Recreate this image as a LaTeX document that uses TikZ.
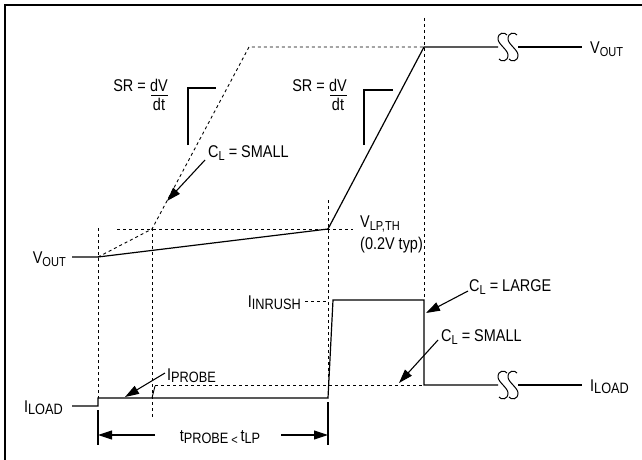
\documentclass[tikz,border=0pt]{standalone}
\usepackage{fontspec}
\setmainfont{Liberation Sans}[FakeStretch=0.85]
\usetikzlibrary{arrows.meta}
\newcommand{\sbs}[1]{\raisebox{-3pt}{\fontsize{13}{13}\selectfont #1}}
\newcommand{\sbl}[1]{\raisebox{-2.5pt}{\fontsize{15}{15}\selectfont #1}}
\begin{document}
\begin{tikzpicture}[x=1pt,y=-1pt,
  wave/.style={line width=1.2pt},
  guide/.style={line width=0.9pt, dash pattern=on 3pt off 3pt},
  lbl/.style={inner sep=0pt, font=\fontsize{17}{19}\selectfont},
  pointer/.style={line width=1.1pt, -{Triangle[length=14pt,width=9pt]}},
  frameline/.style={line width=2pt},
  bracket/.style={line width=1.2pt},
  brk/.style={line width=1pt}]
\useasboundingbox (0,0) rectangle (642,460);
% frame
\draw[frameline] (5,460) -- (5,5) -- (642,5);

% key points
\coordinate (v0) at (72,257);
\coordinate (a1) at (98,257);
\coordinate (p1) at (152,229);
\coordinate (s1) at (249,47);
\coordinate (thr) at (328,229);
\coordinate (vtop) at (424,47);
\coordinate (vb1) at (498,47);
\coordinate (vb2) at (518,47);
\coordinate (vend) at (582,47);

\coordinate (i0) at (72,406);
\coordinate (i1) at (98,406);
\coordinate (i2) at (98,398);
\coordinate (i3) at (328,398);
\coordinate (i4) at (333,300);
\coordinate (i5) at (424,300);
\coordinate (i6) at (424,385);
\coordinate (ib1) at (498,385);
\coordinate (ib2) at (518,385);
\coordinate (iend) at (582,385);

% guide lines
\draw[guide] (98,228) -- (98,398);
\draw[guide] (152,228) -- (152,418);
\draw[guide] (328,200) -- (328,398);
\draw[guide] (424,18) -- (424,297);
\draw[guide] (117,229) -- (353,229);
\draw[guide] (a1) -- (p1) -- (s1) -- (vtop);
\draw[guide] (155,385) -- (i6);
\draw[guide] (305,301) -- (328,301);

% waveforms
\draw[wave] (v0) -- (a1) -- (thr) -- (vtop) -- (vb1);
\draw[wave] (vb2) -- (vend);
\draw[wave] (i0) -- (i1) -- (i2) -- (i3) -- (i4) -- (i5) -- (i6) -- (ib1);
\draw[wave] (ib2) -- (iend);
\draw[line width=0.9pt] (152,398) -- (155,386);

% break symbols
\foreach \cy in {47,385}{
  \foreach \cx in {503,513}{
    \draw[brk] (\cx+4,\cy-12) .. controls (\cx+2,\cy-15) and (\cx-5,\cy-15) .. (\cx-5,\cy-8)
      .. controls (\cx-5,\cy-3) and (\cx+5,\cy+3) .. (\cx+5,\cy+8)
      .. controls (\cx+5,\cy+15) and (\cx-2,\cy+15) .. (\cx-4,\cy+12);
  }
}

% slope brackets
\draw[bracket] (188,145) -- (188,88) -- (216,88);
\draw[bracket] (364,145) -- (364,90) -- (393,90);

% dimension ticks and arrows
\draw[wave] (98,410) -- (98,445);
\draw[wave] (328,402) -- (328,445);
\coordinate (dl) at (98,435);
\coordinate (dr) at (328,435);
\coordinate (dls) at (155,435);
\coordinate (drs) at (281,435);

% labels
\node[lbl, anchor=base east] (sr1) at (146,91) {SR =};
\node[lbl, anchor=base] (dv1) at (159,91) {dV};
\node[lbl, anchor=base] (dt1) at (159,110) {dt};
\draw[line width=0.9pt] (151,95.5) -- (168,95.5);
\node[lbl, anchor=base east] (sr2) at (325,91) {SR =};
\node[lbl, anchor=base] (dv2) at (338,91) {dV};
\node[lbl, anchor=base] (dt2) at (338,110) {dt};
\draw[line width=0.9pt] (330,95.5) -- (347,95.5);

\node[lbl, anchor=base west] (cls1) at (208,157) {C\sbs{L} = SMALL};
\node[lbl, anchor=base east] (voutl) at (66,263) {V\sbs{OUT}};
\node[lbl, anchor=base west] (voutr) at (590,53) {V\sbs{OUT}};
\node[lbl, anchor=base west] (vlp) at (360,227) {V\sbs{LP,TH}};
\node[lbl, anchor=base west] (typ) at (360,249) {(0.2V typ)};
\node[lbl, anchor=base east] (inr) at (301,307) {I\sbl{INRUSH}};
\node[lbl, anchor=base west] (cll) at (469,291) {C\sbs{L} = LARGE};
\node[lbl, anchor=base west] (cls2) at (441,341) {C\sbs{L} = SMALL};
\node[lbl, anchor=base west] (ipr) at (167,380) {I\sbl{PROBE}};
\node[lbl, anchor=base east] (iloadl) at (63,412) {I\sbl{LOAD}};
\node[lbl, anchor=base west] (iloadr) at (590,391) {I\sbl{LOAD}};
\node[lbl, anchor=base] (tp) at (220,441) {t\sbl{PROBE}\,\sbs{<}\,t\sbl{LP}};

% pointers
\draw[pointer] (205,160) -- (167,201);
\draw[pointer] (165,373) -- (125,397);
\draw[pointer] (468,291) -- (426,313);
\draw[pointer] (438,340) -- (399,383);
\draw[pointer] (dls) -- (dl);
\draw[pointer] (drs) -- (dr);
\end{tikzpicture}
\end{document}
